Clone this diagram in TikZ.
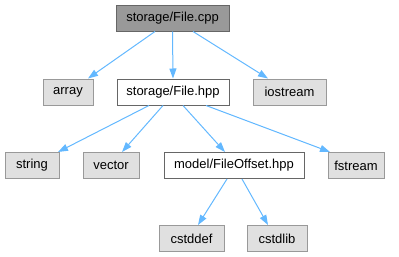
\documentclass[tikz,border=0pt]{standalone}
\usepackage{fontspec}
\setmainfont{Liberation Sans}
\usetikzlibrary{arrows.meta}
\definecolor{edgeblue}{HTML}{63B8FF}
\definecolor{sysfill}{HTML}{E0E0E0}
\definecolor{sysline}{HTML}{999999}
\definecolor{rootfill}{HTML}{999999}
\definecolor{darkline}{HTML}{666666}
\tikzset{
  box/.style={rectangle, minimum height=26pt, inner sep=0pt, line width=1pt,
    font=\fontsize{13}{15}\selectfont},
  sysbox/.style={box, draw=sysline, fill=sysfill},
  srcbox/.style={box, draw=darkline, fill=white},
  rootbox/.style={box, draw=darkline, fill=rootfill},
  dep/.style={draw=edgeblue, line width=1pt,
    -{Triangle[length=10pt,width=7pt]}},
}
\begin{document}
\begin{tikzpicture}[x=1pt, y=-1pt]
\useasboundingbox (0,0) rectangle (399,257);
% files
\node[rootbox, minimum width=113pt] (cpp) at (172.5,18) {storage/File.cpp};
\node[sysbox, minimum width=50pt] (array) at (68,92) {array};
\node[srcbox, minimum width=112pt] (hpp) at (173,92) {storage/File.hpp};
\node[sysbox, minimum width=73pt] (iostream) at (289.5,92) {iostream};
\node[sysbox, minimum width=54pt] (string) at (32,165.5) {string};
\node[sysbox, minimum width=56pt] (vector) at (111,165.5) {vector};
\node[srcbox, minimum width=140pt] (offset) at (234,165.5) {model/FileOffset.hpp};
\node[sysbox, minimum width=56pt] (fstream) at (356,165.5) {fstream};
\node[sysbox, minimum width=65pt] (cstddef) at (191.5,238.5) {cstddef};
\node[sysbox, minimum width=60pt] (cstdlib) at (277,238.5) {cstdlib};
% include edges
\draw[dep] ([xshift=-17.5pt]cpp.south) -- ([xshift=20pt]array.north);
\draw[dep] (cpp.south) -- (hpp.north);
\draw[dep] ([xshift=20.5pt]cpp.south) -- ([xshift=-21.5pt]iostream.north);
\draw[dep] ([xshift=-24pt]hpp.south) -- ([xshift=26pt]string.north);
\draw[dep] ([xshift=-10pt]hpp.south) -- ([xshift=11pt]vector.north);
\draw[dep] ([xshift=10pt]hpp.south) -- ([xshift=-9pt]offset.north);
\draw[dep] ([xshift=33pt]hpp.south) -- ([xshift=-26pt]fstream.north);
\draw[dep] ([xshift=-7pt]offset.south) -- ([xshift=6.5pt]cstddef.north);
\draw[dep] ([xshift=8pt]offset.south) -- ([xshift=-9pt]cstdlib.north);
\end{tikzpicture}
\end{document}
